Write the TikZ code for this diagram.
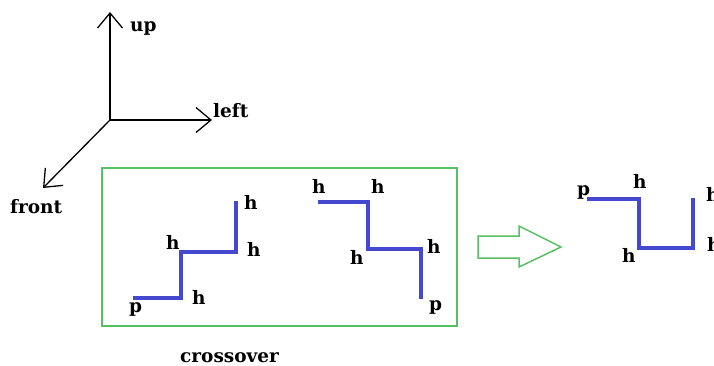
\documentclass[tikz,border=0pt]{standalone}
\usepackage{fontspec}
\setmainfont{DejaVu Serif}
\usetikzlibrary{arrows.meta}
\definecolor{chainblue}{RGB}{68,72,206}
\definecolor{boxgreen}{RGB}{88,192,100}
\begin{document}
\begin{tikzpicture}[x=1pt,y=-1pt,
  lbl/.style={anchor=base west,inner sep=0pt,font=\fontsize{18.5}{22}\selectfont\bfseries},
  axis/.style={line width=1.3pt,-{Straight Barb[length=15pt,width=25pt,line width=1.3pt]}},
  chain/.style={line width=4.5pt,draw=chainblue,line join=miter},
  greenline/.style={draw=boxgreen,line width=1.5pt}]
\clip (0,0) rectangle (714,365);
\fill[white] (0,0) rectangle (714,365);
% axes
\coordinate (o) at (110,120);
\coordinate (uptip) at (110,12);
\coordinate (lefttip) at (212,120);
\coordinate (fronttip) at (43,188);
\draw[axis] (o) -- (uptip);
\draw[axis] (o) -- (lefttip);
\draw[axis] (o) -- (fronttip);
\node[lbl] (up) at (130,31) {up};
\node[lbl] (left) at (213,117) {left};
\node[lbl] (front) at (10,213) {front};
% crossover box
\node[greenline,draw,minimum width=355pt,minimum height=158pt,anchor=north west,inner sep=0pt] (box) at (101,167) {};
\node[lbl] (cross) at (180,362) {crossover};
% left staircase
\coordinate (a1) at (133,298);
\coordinate (a2) at (181,298);
\coordinate (a3) at (181,252);
\coordinate (a4) at (236,252);
\coordinate (a5) at (236,201);
\draw[chain] (a1) -- (a2) -- (a3) -- (a4) -- (a5);
\node[lbl] (l1) at (244,209) {h};
\node[lbl] (l2) at (166,249) {h};
\node[lbl] (l3) at (247,256) {h};
\node[lbl] (l4) at (192,304) {h};
\node[lbl] (l5) at (129,312) {p};
% right staircase
\coordinate (b1) at (318,202);
\coordinate (b2) at (368,202);
\coordinate (b3) at (368,249);
\coordinate (b4) at (421,249);
\coordinate (b5) at (421,299);
\draw[chain] (b1) -- (b2) -- (b3) -- (b4) -- (b5);
\node[lbl] (r1) at (312,193) {h};
\node[lbl] (r2) at (371,193) {h};
\node[lbl] (r3) at (350,264) {h};
\node[lbl] (r4) at (427,253) {h};
\node[lbl] (r5) at (429,310) {p};
% hollow arrow
\draw[greenline,line join=miter] (478,236) -- (519,236) -- (519,226) -- (561,247) -- (519,267) -- (519,258) -- (478,258) -- cycle;
% result
\coordinate (c1) at (587,199);
\coordinate (c2) at (639,199);
\coordinate (c3) at (639,248);
\coordinate (c4) at (693,248);
\coordinate (c5) at (693,198);
\draw[chain] (c1) -- (c2) -- (c3) -- (c4) -- (c5);
\node[lbl] (s1) at (577,195) {p};
\node[lbl] (s2) at (633,188) {h};
\node[lbl] (s3) at (706,201) {h};
\node[lbl] (s4) at (622,262) {h};
\node[lbl] (s5) at (707,251) {h};
\end{tikzpicture}
\end{document}
